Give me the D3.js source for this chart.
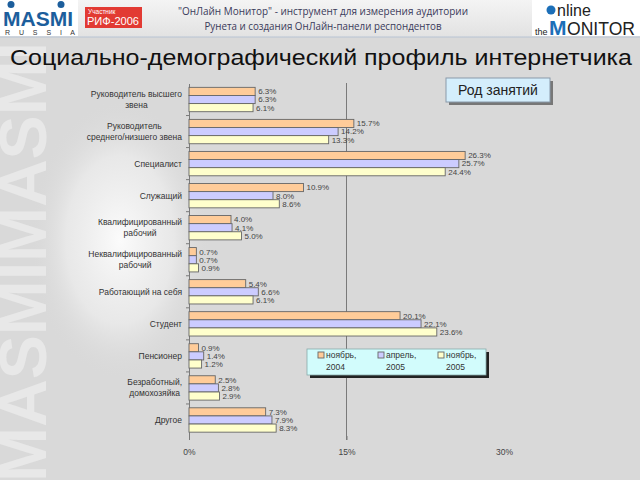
<!DOCTYPE html>
<html><head><meta charset="utf-8">
<script src="https://cdn.jsdelivr.net/npm/d3@7"></script>
<style>body{margin:0;background:#d9d9d9}svg{display:block}</style>
</head><body>
<svg id="c" width="640" height="480"></svg>
<script>
const categories = [
  ["Руководитель высшего","звена"],
  ["Руководитель","среднего/низшего звена"],
  ["Специалист"],
  ["Служащий"],
  ["Квалифицированный","рабочий"],
  ["Неквалифицированный","рабочий"],
  ["Работающий на себя"],
  ["Студент"],
  ["Пенсионер"],
  ["Безработный,","домохозяйка"],
  ["Другое"]
];
const seriesNames = [["ноябрь,","2004"],["апрель,","2005"],["ноябрь,","2005"]];
const nov2004 = [6.3, 15.7, 26.3, 10.9, 4.0, 0.7, 5.4, 20.1, 0.9, 2.5, 7.3];
const apr2005 = [6.3, 14.2, 25.7, 8.0, 4.1, 0.7, 6.6, 22.1, 1.4, 2.8, 7.9];
const nov2005 = [6.1, 13.3, 24.4, 8.6, 5.0, 0.9, 6.1, 23.6, 1.2, 2.9, 8.3];
const xTicks = [0, 15, 30];
const colors = ["#ffcc99", "#ccccff", "#ffffcc"];

const svg = d3.select("#c");
const defs = svg.append("defs");
const hg = defs.append("linearGradient").attr("id","hg").attr("x1",0).attr("x2",0).attr("y1",0).attr("y2",1);
hg.append("stop").attr("offset",0).attr("stop-color","#f4f4f4");
hg.append("stop").attr("offset",1).attr("stop-color","#e2e2e2");
const rg = defs.append("radialGradient").attr("id","rg");
rg.append("stop").attr("offset",0).attr("stop-color","#ffffff").attr("stop-opacity",0.9);
rg.append("stop").attr("offset",0.6).attr("stop-color","#f2f2f2").attr("stop-opacity",0.6);
rg.append("stop").attr("offset",1).attr("stop-color","#d9d9d9").attr("stop-opacity",0);

// background
svg.append("rect").attr("width",640).attr("height",480).attr("fill","#d9d9d9");
svg.append("ellipse").attr("cx",120).attr("cy",240).attr("rx",90).attr("ry",140).attr("fill","url(#rg)");
svg.append("text").attr("transform","translate(46,482) rotate(-90)")
  .attr("font-family","Liberation Sans").attr("font-weight","bold").attr("font-size",66)
  .attr("fill","#ececec").attr("opacity",0.8).text("MASMIMASMI");
svg.append("rect").attr("width",640).attr("height",37).attr("fill","url(#hg)");
svg.append("line").attr("x1",0).attr("x2",640).attr("y1",37).attr("y2",37).attr("stroke","#b8c4d4");

// MASMI logo
svg.append("rect").attr("x",0).attr("y",0).attr("width",78).attr("height",36).attr("fill","#fff");
svg.append("text").attr("x",3).attr("y",26).attr("font-family","Liberation Sans").attr("font-weight","bold")
  .attr("font-size",21).attr("fill","#1c5e9c").attr("textLength",70).attr("lengthAdjust","spacingAndGlyphs").text("MASMI");
[[11,4.5],[61,4.5]].forEach(p=>svg.append("circle").attr("cx",p[0]).attr("cy",p[1]).attr("r",3.5).attr("fill","#1c5e9c"));
svg.append("text").attr("x",5).attr("y",35).attr("font-family","Liberation Sans").attr("font-size",7)
  .attr("fill","#333").attr("textLength",70).text("R U S S I A");
// RIF badge
svg.append("rect").attr("x",85).attr("y",7).attr("width",57).attr("height",21).attr("fill","#e23a33");
svg.append("text").attr("x",88).attr("y",14).attr("font-family","Liberation Sans").attr("font-size",6.5).attr("fill","#fff").text("Участник");
svg.append("text").attr("x",87).attr("y",25).attr("font-family","Liberation Sans").attr("font-size",11).attr("fill","#fff")
  .attr("textLength",52).attr("lengthAdjust","spacingAndGlyphs").text("РИФ-2006");
// header text
svg.append("text").attr("x",323).attr("y",15).attr("text-anchor","middle").attr("font-family","Open Sans").attr("font-size",11.5)
  .attr("fill","#3a3a5a").attr("textLength",290).attr("lengthAdjust","spacingAndGlyphs").text("\"ОнЛайн Монитор\" - инструмент для измерения аудитории");
svg.append("text").attr("x",323).attr("y",30).attr("text-anchor","middle").attr("font-family","Open Sans").attr("font-size",11.5)
  .attr("fill","#3a3a5a").attr("textLength",237).attr("lengthAdjust","spacingAndGlyphs").text("Рунета и создания ОнЛайн-панели респондентов");
// online monitor logo
svg.append("rect").attr("x",532).attr("y",0).attr("width",108).attr("height",36).attr("fill","#fff");
svg.append("circle").attr("cx",551).attr("cy",10).attr("r",4.5).attr("fill","#1c6fb8");
svg.append("text").attr("x",557).attr("y",16).attr("font-family","Liberation Sans").attr("font-size",16).attr("fill","#222").text("nline");
svg.append("text").attr("x",535).attr("y",35).attr("font-family","Liberation Sans").attr("font-size",9).attr("fill","#222").text("the");
svg.append("text").attr("x",549).attr("y",35).attr("font-family","Liberation Sans Narrow, Liberation Sans").attr("font-weight","bold").attr("font-size",21).attr("fill","#1c6fb8").text("M");
svg.append("text").attr("x",567).attr("y",35).attr("font-family","Liberation Sans Narrow, Liberation Sans").attr("font-size",19).attr("fill","#222")
  .attr("textLength",68).attr("lengthAdjust","spacingAndGlyphs").text("ONITOR");

// title
svg.append("text").attr("x",10).attr("y",65).attr("font-family","Liberation Sans").attr("font-size",21.5).attr("fill","#111")
  .attr("textLength",622).attr("lengthAdjust","spacingAndGlyphs").text("Социально-демографический профиль интернетчика");

// chart
const x = d3.scaleLinear().domain([0,30]).range([189,504]);
const y = d3.scaleBand().domain(d3.range(categories.length)).range([83.5,436]).paddingInner(0.24).paddingOuter(0.12);
const sub = d3.scaleBand().domain([0,1,2]).range([0,y.bandwidth()]);
const series = [nov2004, apr2005, nov2005];

// gridline at 15
svg.append("line").attr("x1",x(15)).attr("x2",x(15)).attr("y1",83).attr("y2",440).attr("stroke","#7a7a7a").attr("stroke-width",1);

// x axis
const xa = svg.append("g").attr("transform","translate(0,436)")
  .call(d3.axisBottom(x).tickValues(xTicks).tickSize(4).tickFormat(d=>d+"%"));
xa.select(".domain").remove();
xa.selectAll(".tick line").attr("stroke","#7a7a7a").attr("opacity",d=>d===30?0:1);
xa.selectAll("text").attr("font-family","Liberation Sans").attr("font-size",8.5).attr("fill","#444").attr("dy","1.4em");

// y axis line + boundary ticks
svg.append("g").attr("transform","translate(189,0)").call(d3.axisLeft(y).tickSize(0).tickFormat(""))
  .select(".domain").attr("stroke","#7a7a7a");
d3.range(1,categories.length).forEach(i=>{
  const yy = y(i) - y.step()*y.paddingInner()/2;
  svg.append("line").attr("x1",186).attr("x2",189).attr("y1",yy).attr("y2",yy).attr("stroke","#7a7a7a");
});

// bars
const gBars = svg.append("g");
series.forEach((vals,si)=>{
  vals.forEach((v,ci)=>{
    const yy = y(ci)+sub(si);
    gBars.append("rect").attr("x",x(0)).attr("y",yy).attr("width",x(v)-x(0)).attr("height",sub.bandwidth())
      .attr("fill",colors[si]).attr("stroke","#666").attr("stroke-width",0.9);
    gBars.append("text").attr("x",x(v)+3).attr("y",yy+sub.bandwidth()/2).attr("dy","0.36em")
      .attr("font-family","Liberation Sans").attr("font-size",8).attr("fill","#444").text(v.toFixed(1)+"%");
  });
});

// category labels
categories.forEach((lines,ci)=>{
  const cy = y(ci)+y.bandwidth()/2;
  const g = svg.append("g");
  const lh = 11;
  const ts = lines.map((l,li)=>g.append("text").attr("y",cy+(li-(lines.length-1)/2)*lh).attr("dy","0.35em")
    .attr("font-family","Liberation Sans").attr("font-size",8.5).attr("fill","#333").attr("text-anchor","middle").text(l));
  const w = d3.max(ts,t=>t.node().getComputedTextLength());
  ts.forEach(t=>t.attr("x",182-w/2));
});

// legend
const lg = svg.append("g");
lg.append("rect").attr("x",310).attr("y",352).attr("width",179).attr("height",26).attr("fill","#222");
lg.append("rect").attr("x",307).attr("y",349).attr("width",179).attr("height",26).attr("fill","#d2fcfc").attr("stroke","#8aa").attr("stroke-width",0.8);
seriesNames.forEach((n,i)=>{
  const lx = 318 + i*60;
  lg.append("rect").attr("x",lx).attr("y",352).attr("width",6).attr("height",6).attr("fill",colors[i]).attr("stroke","#666").attr("stroke-width",0.9);
  lg.append("text").attr("x",lx+8).attr("y",358).attr("font-family","Liberation Sans").attr("font-size",8.5).attr("fill","#333").text(n[0]);
  lg.append("text").attr("x",lx+8).attr("y",370).attr("font-family","Liberation Sans").attr("font-size",8.5).attr("fill","#333").text(n[1]);
});

// "Род занятий" box
svg.append("rect").attr("x",449).attr("y",81).attr("width",104).attr("height",24).attr("fill","#777");
svg.append("rect").attr("x",446).attr("y",78).attr("width",104).attr("height",24).attr("fill","#d4eefc").attr("stroke","#8a9aaa");
svg.append("text").attr("x",498).attr("y",95).attr("text-anchor","middle").attr("font-family","Liberation Sans").attr("font-size",14).attr("fill","#222").text("Род занятий");
</script>
</body></html>
